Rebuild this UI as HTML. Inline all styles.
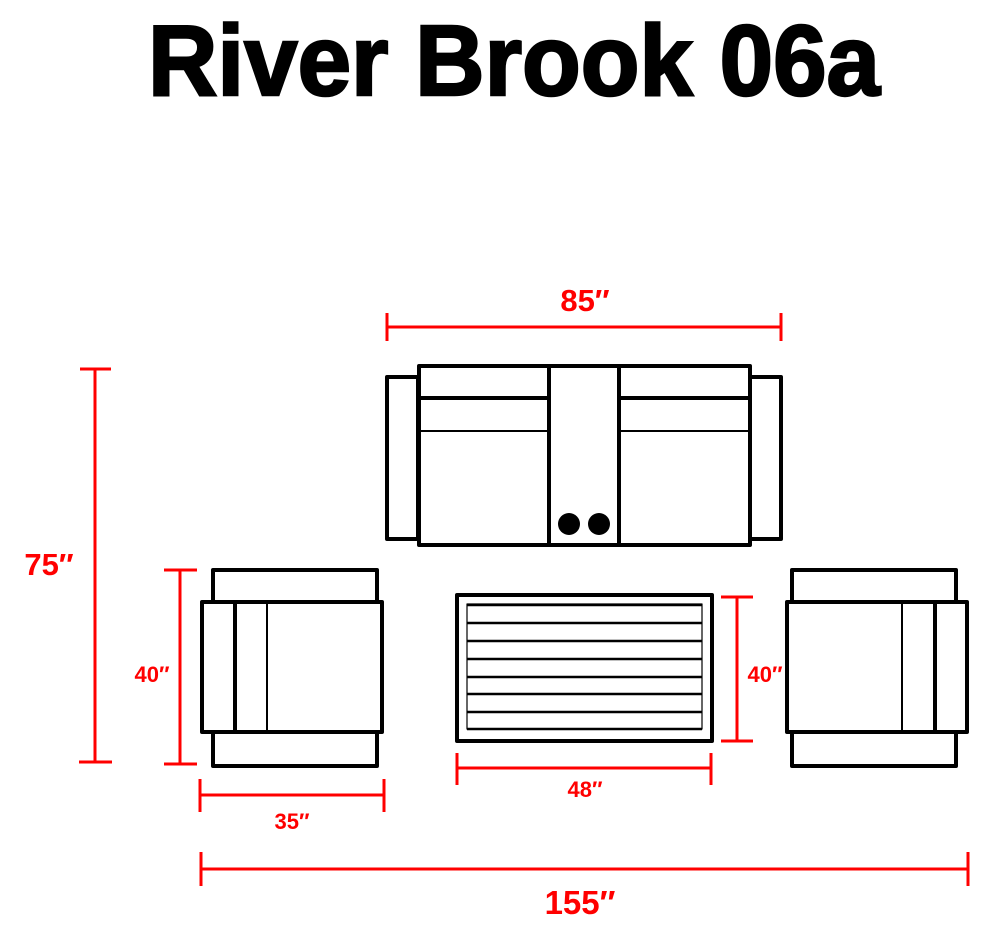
<!DOCTYPE html>
<html><head><style>html,body{margin:0;padding:0;background:#fff}svg{display:block}</style></head>
<body>
<svg width="990" height="934" viewBox="0 0 990 934" xmlns="http://www.w3.org/2000/svg">
<text x="148" y="95" font-family="Liberation Sans, sans-serif" font-weight="bold" font-size="100" textLength="732" lengthAdjust="spacingAndGlyphs" stroke="#000" stroke-width="2.5">River Brook 06a</text>
<g fill="none" stroke="#000" stroke-linejoin="round">
 <rect x="387" y="377" width="31" height="162" stroke-width="4"/>
 <rect x="750" y="377" width="31" height="162" stroke-width="4"/>
 <rect x="419" y="366" width="331" height="179" stroke-width="4"/>
 <rect x="549" y="366" width="70" height="179" stroke-width="4"/>
 <line x1="419" y1="398" x2="549" y2="398" stroke-width="4"/>
 <line x1="619" y1="398" x2="750" y2="398" stroke-width="4"/>
 <line x1="419" y1="431" x2="549" y2="431" stroke-width="2"/>
 <line x1="619" y1="431" x2="750" y2="431" stroke-width="2"/>
 <rect x="213" y="570" width="164" height="196" stroke-width="4"/>
 <rect x="202" y="602" width="180" height="130" stroke-width="4" fill="#fff"/>
 <line x1="235" y1="602" x2="235" y2="732" stroke-width="4"/>
 <line x1="267" y1="602" x2="267" y2="732" stroke-width="2"/>
 <rect x="792" y="570" width="164" height="196" stroke-width="4"/>
 <rect x="787" y="602" width="180" height="130" stroke-width="4" fill="#fff"/>
 <line x1="935" y1="602" x2="935" y2="732" stroke-width="4"/>
 <line x1="902" y1="602" x2="902" y2="732" stroke-width="2"/>
 <rect x="457" y="595" width="255" height="146" stroke-width="4"/>
 <rect x="467" y="604" width="235" height="125" stroke-width="1.2"/>
 <g stroke-width="2.5">
  <line x1="467" y1="605" x2="702" y2="605"/>
  <line x1="467" y1="623" x2="702" y2="623"/>
  <line x1="467" y1="641" x2="702" y2="641"/>
  <line x1="467" y1="659" x2="702" y2="659"/>
  <line x1="467" y1="677" x2="702" y2="677"/>
  <line x1="467" y1="694" x2="702" y2="694"/>
  <line x1="467" y1="712" x2="702" y2="712"/>
  <line x1="467" y1="729" x2="702" y2="729"/>
 </g>
</g>
<circle cx="569" cy="524" r="11" fill="#000"/>
<circle cx="599" cy="524" r="11" fill="#000"/>
<g stroke="#f00" stroke-width="3" fill="none">
 <line x1="387" y1="327" x2="781" y2="327"/><line x1="387" y1="313" x2="387" y2="341"/><line x1="781" y1="313" x2="781" y2="341"/>
 <line x1="95" y1="369" x2="95" y2="762"/><line x1="80" y1="369" x2="111" y2="369"/><line x1="79" y1="762" x2="112" y2="762"/>
 <line x1="180" y1="570" x2="180" y2="764"/><line x1="164" y1="570" x2="197" y2="570"/><line x1="164" y1="764" x2="197" y2="764"/>
 <line x1="737" y1="597" x2="737" y2="741"/><line x1="721" y1="597" x2="753" y2="597"/><line x1="721" y1="741" x2="753" y2="741"/>
 <line x1="200" y1="795" x2="384" y2="795"/><line x1="200" y1="779" x2="200" y2="812"/><line x1="384" y1="779" x2="384" y2="812"/>
 <line x1="457" y1="768" x2="711" y2="768"/><line x1="457" y1="753" x2="457" y2="785"/><line x1="711" y1="753" x2="711" y2="785"/>
 <line x1="201" y1="869" x2="968" y2="869"/><line x1="201" y1="852" x2="201" y2="886"/><line x1="968" y1="852" x2="968" y2="886"/>
</g>
<g fill="#f00" font-family="Liberation Sans, sans-serif" font-weight="bold" text-anchor="middle">
 <text x="585" y="311" font-size="31">85″</text>
 <text x="49" y="575" font-size="31">75″</text>
 <text x="152" y="682" font-size="22">40″</text>
 <text x="765" y="682" font-size="22">40″</text>
 <text x="292" y="829" font-size="22">35″</text>
 <text x="585" y="797" font-size="22">48″</text>
 <text x="580" y="914" font-size="33">155″</text>
</g>
</svg>
</body></html>
